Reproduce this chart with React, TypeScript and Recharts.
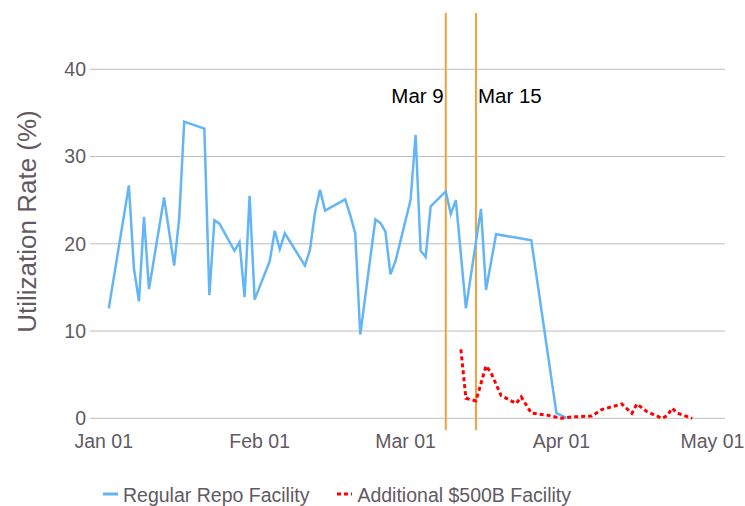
import { LineChart, Line, XAxis, YAxis, CartesianGrid, Legend, ReferenceLine } from 'recharts';

// Regular repo facility, daily utilization (%)
const regularDates = [
  '2020-01-02', '2020-01-06', '2020-01-07', '2020-01-08', '2020-01-09', '2020-01-10',
  '2020-01-13', '2020-01-15', '2020-01-16', '2020-01-17', '2020-01-21', '2020-01-22',
  '2020-01-23', '2020-01-24', '2020-01-27', '2020-01-28', '2020-01-29', '2020-01-30',
  '2020-01-31', '2020-02-03', '2020-02-04', '2020-02-05', '2020-02-06', '2020-02-10',
  '2020-02-11', '2020-02-12', '2020-02-13', '2020-02-14', '2020-02-18', '2020-02-19',
  '2020-02-20', '2020-02-21', '2020-02-24', '2020-02-25', '2020-02-26', '2020-02-27',
  '2020-02-28', '2020-03-02', '2020-03-03', '2020-03-04', '2020-03-05', '2020-03-06',
  '2020-03-09', '2020-03-10', '2020-03-11', '2020-03-13', '2020-03-16', '2020-03-17',
  '2020-03-19', '2020-03-24', '2020-03-26', '2020-03-31', '2020-04-02',
];
const regularRates = [
  12.6, 26.7, 17.2, 13.4, 23.1, 14.8,
  25.3, 17.5, 22.9, 34.0, 33.2, 14.1,
  22.7, 22.3, 19.2, 20.2, 13.9, 25.5,
  13.6, 18.0, 21.5, 19.4, 21.2, 17.5,
  19.3, 23.6, 26.2, 23.8, 25.1, 23.3,
  21.2, 9.6, 22.8, 22.4, 21.4, 16.5,
  18.0, 25.0, 32.5, 19.2, 18.5, 24.3,
  26.0, 23.4, 25.0, 12.6, 24.0, 14.7,
  21.1, 20.6, 20.4, 0.6, 0.05,
];

// Additional $500B facility
const additionalDates = [
  '2020-03-12', '2020-03-13', '2020-03-15', '2020-03-17', '2020-03-18', '2020-03-20',
  '2020-03-23', '2020-03-24', '2020-03-26', '2020-03-29', '2020-04-01', '2020-04-03',
  '2020-04-07', '2020-04-09', '2020-04-13', '2020-04-15', '2020-04-16', '2020-04-18',
  '2020-04-21', '2020-04-22', '2020-04-23', '2020-04-24', '2020-04-27',
];
const additionalRates = [
  7.9, 2.3, 2.0, 6.0, 5.2, 2.6,
  1.7, 2.45, 0.6, 0.38, 0.0, 0.15,
  0.26, 1.0, 1.64, 0.57, 1.64, 0.76,
  0.0, 0.3, 1.15, 0.6, 0.0,
];

const seriesNames = ['Regular Repo Facility', 'Additional $500B Facility'];

const tickDates = ['2020-01-01', '2020-02-01', '2020-03-01', '2020-04-01', '2020-05-01'];
const tickLabels = ['Jan 01', 'Feb 01', 'Mar 01', 'Apr 01', 'May 01'];
const yTicks = [0, 10, 20, 30, 40];

const eventDates = ['2020-03-09', '2020-03-15'];
const eventLabels = ['Mar 9', 'Mar 15'];

const DAY0 = Date.UTC(2020, 0, 1);
const toDay = (s: string) => (Date.parse(s) - DAY0) / 86400000;

const regularData = regularDates.map((d, i) => ({ day: toDay(d), rate: regularRates[i] }));
const additionalData = additionalDates.map((d, i) => ({ day: toDay(d), rate: additionalRates[i] }));
const xTicks = tickDates.map(toDay);
const labelFor = (v: number) => tickLabels[xTicks.indexOf(v)] ?? '';

const BLUE = '#64b5f6';
const RED = '#ff0000';
const ORANGE = '#f5a03c';
const TEXT = '#615a62';
const FONT = '"Liberation Sans", Arial, sans-serif';

const legendItems = [
  { name: seriesNames[0], color: BLUE, dash: undefined },
  { name: seriesNames[1], color: RED, dash: '4 3' },
];

const renderLegend = () => (
  <div style={{ display: 'flex', paddingLeft: 103, fontSize: 19.5, lineHeight: '22px', color: TEXT, fontFamily: FONT }}>
    {legendItems.map((it, i) => (
      <div key={i} style={{ display: 'flex', alignItems: 'center', marginRight: 28 }}>
        <svg width={16} height={22} style={{ marginRight: 4 }}>
          <line x1={0} x2={15} y1={10} y2={10} stroke={it.color} strokeWidth={3} strokeDasharray={it.dash} />
        </svg>
        <span>{it.name}</span>
      </div>
    ))}
  </div>
);

const eventLabel = (text: string, side: 'left' | 'right') => (props: any) => {
  const vb = props.viewBox;
  if (!vb) return null;
  return (
    <text
      x={side === 'left' ? vb.x - 2 : vb.x + 2}
      y={vb.y + 90}
      textAnchor={side === 'left' ? 'end' : 'start'}
      fontSize={20.5}
      fontFamily={FONT}
      fill="#000"
    >
      {text}
    </text>
  );
};

export default function App() {
  return (
    <div style={{ width: 745, height: 506 }}>
      <style>{'body{margin:0}'}</style>
      <LineChart width={745} height={506} margin={{ top: 13, right: 20, left: 0, bottom: 0 }}>
        <CartesianGrid vertical={false} horizontalValues={yTicks} stroke="#bdbdbd" strokeWidth={1} />
        <XAxis
          type="number"
          dataKey="day"
          domain={[-2.73, 123.51]}
          allowDataOverflow
          ticks={xTicks}
          tickFormatter={labelFor}
          axisLine={false}
          tickLine={false}
          tickSize={0}
          tickMargin={4}
          height={54}
          tick={{ fontSize: 19.5, fill: TEXT, fontFamily: FONT }}
        />
        <YAxis
          type="number"
          domain={[-1.34, 46.45]}
          allowDataOverflow
          ticks={yTicks}
          axisLine={false}
          tickLine={false}
          tickSize={0}
          tickMargin={4}
          width={90}
          tick={{ fontSize: 19.5, fill: TEXT, fontFamily: FONT }}
          label={{
            value: 'Utilization Rate (%)',
            angle: -90,
            position: 'center',
            dx: -18,
            fontSize: 26,
            fill: TEXT,
            fontFamily: FONT,
          }}
        />
        <Legend verticalAlign="bottom" align="left" content={renderLegend} wrapperStyle={{ left: 0 }} />
        <ReferenceLine x={toDay(eventDates[0])} stroke={ORANGE} strokeWidth={2} label={eventLabel(eventLabels[0], 'left')} />
        <ReferenceLine x={toDay(eventDates[1])} stroke={ORANGE} strokeWidth={2} label={eventLabel(eventLabels[1], 'right')} />
        <Line
          data={regularData}
          dataKey="rate"
          name={seriesNames[0]}
          type="linear"
          stroke={BLUE}
          strokeWidth={2.5}
          dot={false}
          isAnimationActive={false}
        />
        <Line
          data={additionalData}
          dataKey="rate"
          name={seriesNames[1]}
          type="linear"
          stroke={RED}
          strokeWidth={3}
          strokeDasharray="4 3"
          dot={false}
          isAnimationActive={false}
        />
      </LineChart>
    </div>
  );
}
